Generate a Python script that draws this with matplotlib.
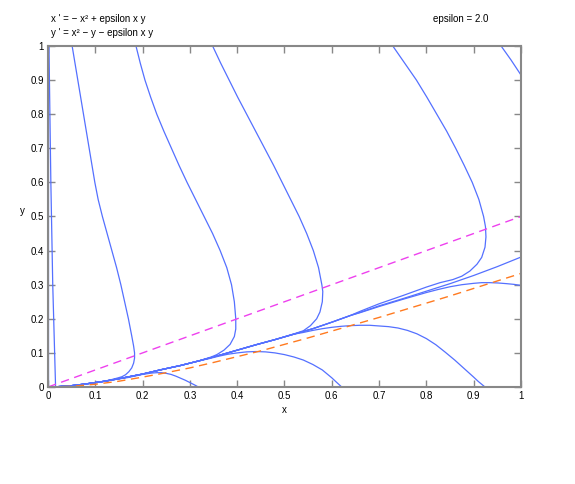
import matplotlib
matplotlib.use("Agg")
import matplotlib.pyplot as plt

plt.rcParams['font.family'] = ['Liberation Sans', 'DejaVu Sans']

# nullclines
magenta_x = [0.0, 1.0]
magenta_y = [0.0, 0.5]
orange_x = [0.0, 0.05, 0.1, 0.15, 0.2, 0.25, 0.3, 0.35, 0.4, 0.45, 0.5, 0.55, 0.6, 0.65, 0.7, 0.75, 0.8, 0.85, 0.9, 0.95, 1.0]
orange_y = [0.0, 0.002, 0.008, 0.017, 0.029, 0.042, 0.056, 0.072, 0.089, 0.106, 0.125, 0.144, 0.164, 0.184, 0.204, 0.225, 0.246, 0.267, 0.289, 0.311, 0.333]

# shared tail: the line all trajectories run into on the way to the origin
tail_x = [0.638, 0.6, 0.56, 0.52, 0.48, 0.44, 0.40, 0.36, 0.32, 0.28, 0.24, 0.20, 0.16, 0.12, 0.08, 0.05, 0.02, 0.0]
tail_y = [0.209, 0.190, 0.171, 0.155, 0.139, 0.124, 0.108, 0.092, 0.077, 0.063, 0.051, 0.038, 0.027, 0.017, 0.009, 0.004, 0.001, 0.0]

# trajectories (own part, before they join the tail)
curve_a_x = [0.0, 0.0]
curve_a_y = [1.0, 0.0]
curve_b_x = [0.002, 0.004, 0.006, 0.008, 0.010, 0.013, 0.016]
curve_b_y = [1.0, 0.8, 0.6, 0.45, 0.3, 0.15, 0.0]
curve_c_x = [0.051, 0.063, 0.075, 0.087, 0.099, 0.106, 0.115, 0.125, 0.135, 0.145, 0.154, 0.162, 0.170, 0.177,
             0.181, 0.183, 0.183, 0.181, 0.177, 0.171, 0.164, 0.156, 0.146, 0.135]
curve_c_y = [1.0, 0.9, 0.8, 0.7, 0.6, 0.55, 0.5, 0.45, 0.4, 0.35, 0.3, 0.25, 0.2, 0.15,
             0.12, 0.10, 0.085, 0.070, 0.056, 0.045, 0.036, 0.030, 0.026, 0.022]
curve_d_x = [0.186, 0.195, 0.205, 0.217, 0.230, 0.245, 0.261, 0.277, 0.294, 0.312, 0.330, 0.348, 0.364, 0.378,
             0.388, 0.394, 0.397, 0.397, 0.394, 0.385, 0.372, 0.357, 0.345]
curve_d_y = [1.0, 0.95, 0.9, 0.85, 0.8, 0.75, 0.7, 0.65, 0.6, 0.55, 0.5, 0.45, 0.4, 0.35,
             0.3, 0.25, 0.2, 0.17, 0.148, 0.125, 0.108, 0.095, 0.088]
curve_e_x = [0.348, 0.365, 0.383, 0.401, 0.420, 0.439, 0.458, 0.477, 0.495, 0.513, 0.531, 0.547, 0.561, 0.572,
             0.579, 0.581, 0.580, 0.575, 0.568, 0.555, 0.540, 0.525]
curve_e_y = [1.0, 0.95, 0.9, 0.85, 0.8, 0.75, 0.7, 0.65, 0.6, 0.55, 0.5, 0.45, 0.4, 0.35,
             0.3, 0.28, 0.25, 0.22, 0.2, 0.18, 0.165, 0.158]
curve_f_x = [0.729, 0.754, 0.779, 0.801, 0.822, 0.843, 0.862, 0.880, 0.897, 0.911, 0.921, 0.925, 0.926, 0.924,
             0.917, 0.907, 0.892, 0.875, 0.856, 0.829, 0.8, 0.75, 0.7, 0.66]
curve_f_y = [1.0, 0.95, 0.9, 0.85, 0.8, 0.75, 0.7, 0.65, 0.6, 0.55, 0.5, 0.47, 0.44, 0.41,
             0.38, 0.36, 0.34, 0.325, 0.315, 0.306, 0.293, 0.268, 0.244, 0.222]
curve_g_x = [0.958, 0.979, 1.0]
curve_g_y = [1.0, 0.959, 0.915]
curve_h_x = [1.0, 0.95, 0.9, 0.85, 0.8, 0.75, 0.7, 0.66]
curve_h_y = [0.381, 0.353, 0.327, 0.303, 0.281, 0.259, 0.238, 0.219]
curve_i_x = [1.0, 0.985, 0.97, 0.952, 0.934, 0.917, 0.9, 0.875, 0.85, 0.825, 0.8, 0.75, 0.7, 0.66]
curve_i_y = [0.298, 0.301, 0.303, 0.305, 0.306, 0.306, 0.304, 0.300, 0.294, 0.286, 0.277, 0.257, 0.236, 0.218]
curve_j_x = [0.924, 0.91, 0.90, 0.88, 0.86, 0.84, 0.82, 0.80, 0.78, 0.76, 0.74, 0.72, 0.70, 0.68,
             0.66, 0.64, 0.62, 0.60, 0.58, 0.56, 0.54]
curve_j_y = [0.0, 0.016, 0.029, 0.054, 0.079, 0.102, 0.124, 0.142, 0.156, 0.166, 0.173, 0.177, 0.179, 0.181,
             0.181, 0.180, 0.178, 0.175, 0.171, 0.166, 0.160]
curve_k_x = [0.621, 0.61, 0.60, 0.58, 0.56, 0.54, 0.52, 0.50, 0.48, 0.46, 0.44, 0.42, 0.40, 0.38, 0.36, 0.34, 0.33]
curve_k_y = [0.0, 0.014, 0.027, 0.050, 0.066, 0.079, 0.088, 0.095, 0.100, 0.103, 0.104, 0.103, 0.100, 0.096, 0.090, 0.083, 0.080]
curve_l_x = [0.318, 0.31, 0.30, 0.29, 0.28, 0.27, 0.26, 0.25, 0.24, 0.23, 0.22, 0.21, 0.20, 0.19, 0.18, 0.17]
curve_l_y = [0.0, 0.006, 0.013, 0.020, 0.026, 0.032, 0.037, 0.040, 0.042, 0.042, 0.041, 0.039, 0.037, 0.034, 0.031, 0.028]

curves = [
    (curve_a_x, curve_a_y, False),
    (curve_b_x, curve_b_y, False),
    (curve_c_x, curve_c_y, True),
    (curve_d_x, curve_d_y, True),
    (curve_e_x, curve_e_y, True),
    (curve_f_x, curve_f_y, True),
    (curve_g_x, curve_g_y, False),
    (curve_h_x, curve_h_y, True),
    (curve_i_x, curve_i_y, True),
    (curve_j_x, curve_j_y, True),
    (curve_k_x, curve_k_y, True),
    (curve_l_x, curve_l_y, True),
]

blue = '#5470ff'
fig = plt.figure(figsize=(5.75, 4.84), dpi=100)
ax = fig.add_axes([0.0835, 0.2004, 0.8225, 0.7046])

for cx, cy, joins in curves:
    xs, ys = list(cx), list(cy)
    if joins:
        last = xs[-1]
        for tx, ty in zip(tail_x, tail_y):
            if tx < last - 0.01:
                xs.append(tx)
                ys.append(ty)
    ax.plot(xs, ys, color=blue, lw=0.9, solid_joinstyle='round')

ax.plot(magenta_x, magenta_y, color='#ee40ee', lw=1.0, dashes=(6, 4))
ax.plot([0, 0], [0, 1], color='#ee40ee', lw=1.2, dashes=(6, 4))
ax.plot(orange_x, orange_y, color='#ff7a20', lw=1.0, dashes=(6, 4))

ax.set_xlim(0, 1)
ax.set_ylim(0, 1)
ticks = [0, 0.1, 0.2, 0.3, 0.4, 0.5, 0.6, 0.7, 0.8, 0.9, 1]
tick_labels = ['0', '0.1', '0.2', '0.3', '0.4', '0.5', '0.6', '0.7', '0.8', '0.9', '1']
ax.set_xticks(ticks)
ax.set_xticklabels(tick_labels)
ax.set_yticks(ticks)
ax.set_yticklabels(tick_labels)
ax.tick_params(direction='in', length=5, width=1, color='#888888', labelsize=7,
               top=True, right=True, pad=3)
for s in ax.spines.values():
    s.set_color('#888888')
    s.set_linewidth(1.5)

ax.set_xlabel('x', fontsize=7, labelpad=3)
ax.set_ylabel('y', fontsize=7, rotation=0, labelpad=6)

fig.text(51 / 575, 1 - 19 / 484, "x ' = − x² + epsilon x y", fontsize=7, va='center')
fig.text(51 / 575, 1 - 33 / 484, "y ' = x² − y − epsilon x y", fontsize=7, va='center')
fig.text(433 / 575, 1 - 19 / 484, "epsilon = 2.0", fontsize=7, va='center')

fig.savefig('out.png', dpi=100)
